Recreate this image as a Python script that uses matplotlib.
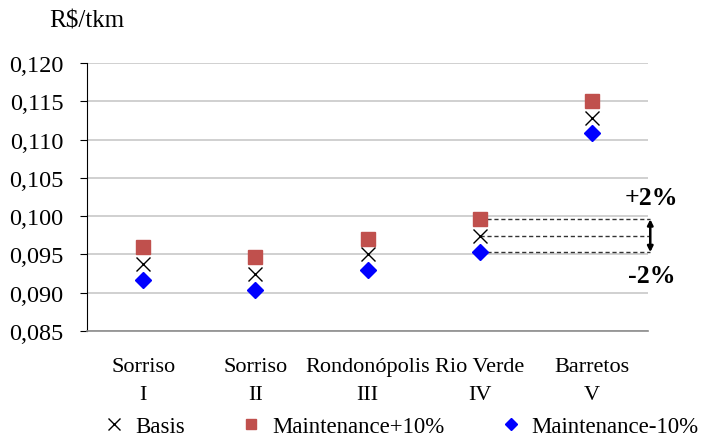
import matplotlib
matplotlib.use("Agg")
import matplotlib.pyplot as plt

plt.rcParams['font.family'] = ['Liberation Serif', 'DejaVu Serif']

categories = ["Sorriso\nI", "Sorriso\nII", "Rondonópolis\nIII", "Rio Verde\nIV", "Barretos\nV"]
basis = [0.0938, 0.0925, 0.0950, 0.0974, 0.1128]
maint_plus = [0.0960, 0.0947, 0.0970, 0.0996, 0.1150]
maint_minus = [0.0917, 0.0904, 0.0930, 0.0953, 0.1109]
yticks = [0.085, 0.090, 0.095, 0.100, 0.105, 0.110, 0.115, 0.120]

fig = plt.figure(figsize=(7.09, 4.39), dpi=100)
ax = fig.add_axes([0.1227, 0.2437, 0.7913, 0.6103])

x = list(range(len(categories)))
ax.plot(x, basis, linestyle='none', marker='x', color='black', markersize=10,
        markeredgewidth=1.0, label='Basis', zorder=3)
ax.plot(x, maint_plus, linestyle='none', marker='s', color='#C0504D', markersize=9.5,
        label='Maintenance+10%', zorder=3)
ax.plot(x, maint_minus, linestyle='none', marker='D', color='#0000FF', markersize=8,
        label='Maintenance-10%', zorder=3)

ax.set_xlim(-0.5, 4.5)
ax.set_ylim(0.085, 0.120)
ax.set_yticks(yticks)
ax.set_yticklabels([('%.3f' % v).replace('.', ',') for v in yticks], fontsize=17.5)
ax.set_xticks(x)
ax.set_xticklabels(categories, fontsize=16, linespacing=1.6)
ax.tick_params(axis='x', length=0, pad=19)
ax.tick_params(axis='y', length=5, direction='out', color='black', pad=12)
ax.grid(axis='y', color='#C8C8C8', linewidth=1.2)
ax.set_axisbelow(True)
for s in ['top', 'right']:
    ax.spines[s].set_visible(False)
ax.spines['left'].set_color('black')
ax.spines['bottom'].set_color('#8C8C8C')
ax.spines['bottom'].set_linewidth(1.2)

# sensitivity band at Rio Verde
i = 3
xe = 4.52
for v in [maint_plus[i], basis[i], maint_minus[i]]:
    ax.plot([i, xe], [v, v], linestyle=(0, (3, 2)), color='#333333', linewidth=1.0,
            clip_on=False, zorder=2)
ax.annotate('', xy=(xe, maint_plus[i]), xytext=(xe, maint_minus[i]),
            arrowprops=dict(arrowstyle='<|-|>', color='black', lw=1.8,
                            mutation_scale=8, shrinkA=0, shrinkB=0),
            annotation_clip=False)
ax.text(xe + 0.01, 0.1025, '+2%', fontsize=18.5, fontweight='bold', ha='center',
        va='center', clip_on=False)
ax.text(xe + 0.01, 0.0922, '-2%', fontsize=18.5, fontweight='bold', ha='center',
        va='center', clip_on=False)

fig.text(0.07, 0.95, 'R$/tkm', fontsize=18, va='center', ha='left')

fig.legend(loc='lower center', bbox_to_anchor=(0.565, -0.045), ncol=3, frameon=False,
           fontsize=16.5, columnspacing=2.4, handletextpad=0.4, handlelength=1.0,
           markerscale=0.8)

fig.savefig('out.png', dpi=100)
